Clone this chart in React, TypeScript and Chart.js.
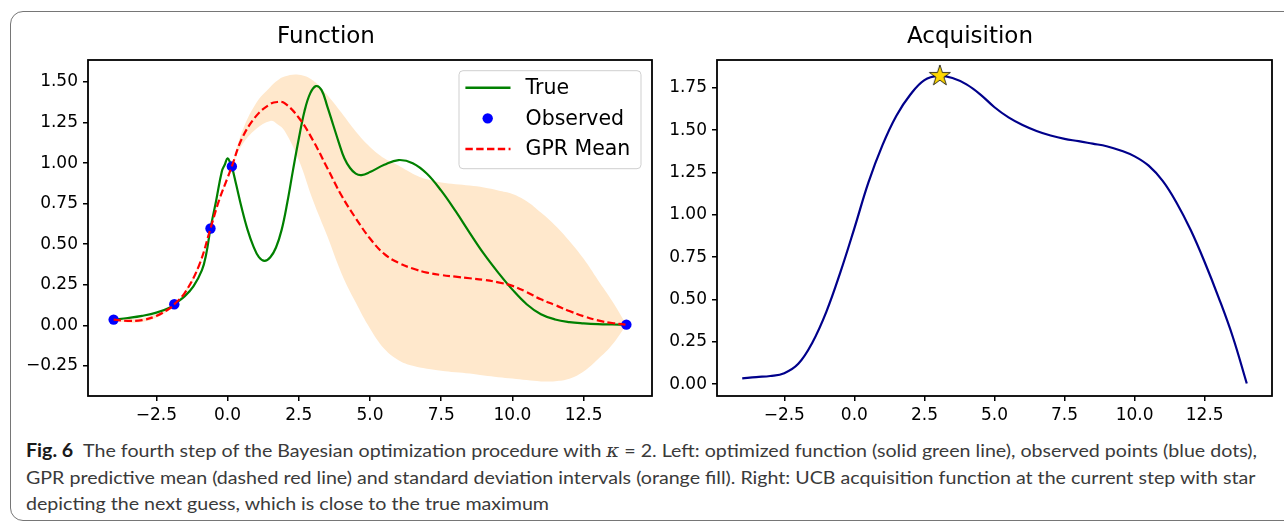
import React, { useEffect, useLayoutEffect, useRef } from "react";
import { Chart, registerables } from "chart.js";

Chart.register(...registerables);

// ---------- data ----------
const X_TICKS = [-2.5, 0, 2.5, 5, 7.5, 10, 12.5];
const LEFT_Y_TICKS = [-0.25, 0, 0.25, 0.5, 0.75, 1, 1.25, 1.5];
const RIGHT_Y_TICKS = [0, 0.25, 0.5, 0.75, 1, 1.25, 1.5, 1.75];

const TRUE_X = [-4, -3.5, -3, -2.5, -2, -1.87, -1.5, -1.2, -0.9, -0.75, -0.6, -0.4, -0.2, -0.1, 0, 0.1, 0.15, 0.3, 0.5, 0.7, 0.9, 1.1, 1.3, 1.5, 1.7, 1.9, 2.1, 2.3, 2.5, 2.7, 2.9, 3.1, 3.3, 3.5, 3.7, 3.9, 4.1, 4.3, 4.5, 4.7, 5, 5.5, 6, 6.5, 7, 7.5, 8, 8.5, 9, 9.5, 10, 10.5, 11, 11.5, 12, 12.5, 13, 13.5, 14];
const TRUE_Y = [0.035, 0.045, 0.058, 0.078, 0.112, 0.13, 0.18, 0.24, 0.34, 0.44, 0.597, 0.77, 0.95, 0.99, 1.03, 1.0, 0.98, 0.87, 0.72, 0.59, 0.49, 0.42, 0.397, 0.42, 0.48, 0.59, 0.76, 0.96, 1.15, 1.32, 1.43, 1.475, 1.45, 1.35, 1.24, 1.13, 1.03, 0.97, 0.935, 0.926, 0.945, 0.99, 1.019, 1.0, 0.935, 0.83, 0.705, 0.57, 0.44, 0.325, 0.22, 0.13, 0.068, 0.036, 0.02, 0.012, 0.007, 0.005, 0.004];

const MEAN_X = [-4, -3.5, -3, -2.5, -2, -1.87, -1.5, -1, -0.6, -0.3, 0, 0.15, 0.5, 1, 1.5, 1.75, 2, 2.5, 3, 3.5, 4, 4.5, 5, 5.5, 6, 6.5, 7, 7.5, 8, 8.5, 9, 9.5, 10, 10.5, 11, 11.5, 12, 12.5, 13, 13.5, 14];
const MEAN_Y = [0.035, 0.027, 0.032, 0.058, 0.108, 0.13, 0.2, 0.37, 0.597, 0.77, 0.91, 0.98, 1.15, 1.29, 1.365, 1.377, 1.37, 1.28, 1.14, 0.97, 0.8, 0.66, 0.535, 0.44, 0.385, 0.35, 0.325, 0.31, 0.3, 0.29, 0.28, 0.265, 0.243, 0.205, 0.16, 0.125, 0.088, 0.056, 0.03, 0.014, 0.004];

const BAND_X = [-4, -3.5, -3, -2.5, -2, -1.87, -1.5, -1, -0.6, -0.3, 0, 0.15, 0.5, 1, 1.5, 1.75, 2, 2.5, 3, 3.5, 4, 4.5, 5, 5.5, 6, 6.5, 7, 7.5, 8, 8.5, 9, 9.5, 10, 10.5, 11, 11.5, 12, 12.5, 13, 13.5, 14];
const BAND_UPPER = [0.04, 0.037, 0.045, 0.07, 0.115, 0.13, 0.21, 0.38, 0.597, 0.78, 0.915, 0.98, 1.19, 1.37, 1.47, 1.51, 1.535, 1.545, 1.51, 1.42, 1.31, 1.195, 1.1, 1.03, 0.985, 0.935, 0.9, 0.88, 0.87, 0.862, 0.85, 0.832, 0.81, 0.765, 0.695, 0.615, 0.52, 0.41, 0.28, 0.15, 0.004];
const BAND_LOWER = [0.03, 0.018, 0.02, 0.046, 0.1, 0.13, 0.19, 0.355, 0.597, 0.76, 0.905, 0.98, 1.11, 1.21, 1.26, 1.24, 1.2, 1.02, 0.77, 0.55, 0.32, 0.14, -0.02, -0.145, -0.215, -0.25, -0.268, -0.28, -0.29, -0.298, -0.31, -0.32, -0.328, -0.338, -0.346, -0.345, -0.33, -0.285, -0.21, -0.12, 0.004];

const OBS_X = [-4, -1.87, -0.6, 0.15, 14];
const OBS_Y = [0.035, 0.13, 0.597, 0.98, 0.004];

const ACQ_X = [-4, -3.5, -3, -2.5, -2, -1.5, -1, -0.5, 0, 0.5, 1, 1.5, 2, 2.5, 3, 3.5, 4, 4.5, 5, 5.5, 6, 6.5, 7, 7.5, 8, 8.5, 9, 9.5, 10, 10.5, 11, 11.5, 12, 12.5, 13, 13.5, 14];
const ACQ_Y = [0.034, 0.042, 0.048, 0.065, 0.12, 0.245, 0.427, 0.66, 0.92, 1.19, 1.41, 1.585, 1.71, 1.795, 1.82, 1.808, 1.77, 1.71, 1.635, 1.575, 1.53, 1.495, 1.468, 1.448, 1.435, 1.42, 1.405, 1.38, 1.345, 1.29, 1.2, 1.07, 0.91, 0.72, 0.51, 0.28, 0.004];

const STAR_X = [3.05];
const STAR_Y = [1.82];

const TITLES = ["Function", "Acquisition"];
const LEGEND_LABELS = ["True", "Observed", "GPR Mean"];

// ---------- style ----------
const FONT = "'DejaVu Sans', sans-serif";
const FILL_COLOR = "rgb(255, 232, 204)";
const CAPTION_LINE1_WIDTH = 1231;

const fmt = (digits: number) => (v: number) =>
  (v < -1e-9 ? "\u2212" : "") + Math.abs(v).toFixed(digits);

const pts = (xs: number[], ys: number[]) => xs.map((x, i) => ({ x, y: ys[i] }));

function axes(opts: {
  yTicks: number[];
  yMin: number;
  yMax: number;
  yWidth: number;
  xHeight: number;
}) {
  const common = {
    grid: {
      display: true,
      drawOnChartArea: false,
      drawTicks: true,
      tickLength: 5,
      color: "#000",
      lineWidth: 1.5,
    },
    border: { display: false },
  };
  return {
    x: {
      type: "linear",
      min: -4.9,
      max: 14.9,
      afterBuildTicks: (s: any) => {
        s.ticks = X_TICKS.map((v) => ({ value: v }));
      },
      afterFit: (s: any) => {
        s.height = opts.xHeight;
      },
      ...common,
      ticks: {
        color: "#000",
        font: { family: FONT, size: 17 },
        padding: 4,
        maxRotation: 0,
        autoSkip: false,
        callback: (v: any) => fmt(1)(Number(v)),
      },
    },
    y: {
      type: "linear",
      min: opts.yMin,
      max: opts.yMax,
      afterBuildTicks: (s: any) => {
        s.ticks = opts.yTicks.map((v) => ({ value: v }));
      },
      afterFit: (s: any) => {
        s.width = opts.yWidth;
      },
      ...common,
      ticks: {
        color: "#000",
        font: { family: FONT, size: 17 },
        padding: 5,
        autoSkip: false,
        callback: (v: any) => fmt(2)(Number(v)),
      },
    },
  };
}

const boxPlugin = {
  id: "axesBox",
  afterDatasetsDraw(chart: any) {
    const { ctx, chartArea: a } = chart;
    ctx.save();
    ctx.strokeStyle = "#000";
    ctx.lineWidth = 1.8;
    ctx.strokeRect(a.left, a.top, a.right - a.left, a.bottom - a.top);
    ctx.restore();
  },
};

const legendPlugin = {
  id: "mplLegend",
  afterDraw(chart: any) {
    const { ctx, chartArea: a } = chart;
    const w = 182;
    const h = 98;
    const right = a.right - 11;
    const left = right - w;
    const top = a.top + 10.7;
    ctx.save();
    ctx.beginPath();
    ctx.roundRect(left, top, w, h, 4);
    ctx.fillStyle = "rgba(255,255,255,0.8)";
    ctx.fill();
    ctx.strokeStyle = "#cfcfcf";
    ctx.lineWidth = 1;
    ctx.stroke();
    const dsets = chart.data.datasets;
    LEGEND_LABELS.forEach((label, i) => {
      const ds = dsets.find((d: any) => d.label === label);
      const y = top + 17 + i * 30.65;
      if (ds.showLine === false) {
        ctx.beginPath();
        ctx.arc(left + 28.7, y, ds.pointRadius, 0, Math.PI * 2);
        ctx.fillStyle = ds.pointBackgroundColor;
        ctx.fill();
      } else {
        ctx.beginPath();
        ctx.setLineDash(ds.borderDash || []);
        ctx.strokeStyle = ds.borderColor;
        ctx.lineWidth = ds.borderWidth + 0.3;
        ctx.moveTo(left + 6.4, y);
        ctx.lineTo(left + 51.5, y);
        ctx.stroke();
        ctx.setLineDash([]);
      }
      ctx.fillStyle = "#000";
      ctx.font = `20.5px ${FONT}`;
      ctx.textBaseline = "middle";
      ctx.textAlign = "left";
      ctx.fillText(label, left + 66.5, y + 1);
    });
    ctx.restore();
  },
};

function makeStar(): HTMLCanvasElement {
  const c = document.createElement("canvas");
  c.width = 26;
  c.height = 26;
  const g = c.getContext("2d")!;
  const R = 11;
  const r = R * 0.382;
  g.beginPath();
  for (let i = 0; i < 10; i++) {
    const ang = -Math.PI / 2 + (i * Math.PI) / 5;
    const rad = i % 2 === 0 ? R : r;
    const px = 13 + rad * Math.cos(ang);
    const py = 13 + rad * Math.sin(ang);
    if (i === 0) g.moveTo(px, py);
    else g.lineTo(px, py);
  }
  g.closePath();
  g.fillStyle = "#FFD700";
  g.fill();
  g.strokeStyle = "#000";
  g.lineWidth = 0.8;
  g.stroke();
  return c;
}

function titleOpts(text: string) {
  return {
    display: true,
    text,
    color: "#000",
    font: { family: FONT, size: 23, weight: "normal", lineHeight: 1.2 },
    padding: { top: 23, bottom: 9.4 },
  };
}

export default function App() {
  const leftRef = useRef<HTMLCanvasElement>(null);
  const rightRef = useRef<HTMLCanvasElement>(null);
  const capRef = useRef<HTMLDivElement>(null);
  const line1Ref = useRef<HTMLSpanElement>(null);

  useLayoutEffect(() => {
    const fit = () => {
      const el = line1Ref.current;
      const cap = capRef.current;
      if (!el || !cap) return;
      cap.style.transform = "none";
      const w = el.getBoundingClientRect().width;
      if (w > 0) cap.style.transform = `scaleX(${CAPTION_LINE1_WIDTH / w})`;
    };
    fit();
    (document as any).fonts?.ready?.then(fit);
  }, []);

  useEffect(() => {
    const left = new Chart(leftRef.current!, {
      type: "line",
      data: {
        datasets: [
          {
            label: "band-lower",
            data: pts(BAND_X, BAND_LOWER),
            borderWidth: 0,
            borderColor: "rgba(0,0,0,0)",
            pointRadius: 0,
            fill: false,
            order: 10,
          },
          {
            label: "band-upper",
            data: pts(BAND_X, BAND_UPPER),
            borderWidth: 0,
            borderColor: "rgba(0,0,0,0)",
            backgroundColor: FILL_COLOR,
            pointRadius: 0,
            fill: 0,
            order: 9,
          },
          {
            label: "True",
            data: pts(TRUE_X, TRUE_Y),
            borderColor: "#008000",
            borderWidth: 2.2,
            pointRadius: 0,
            fill: false,
            order: 3,
          },
          {
            label: "Observed",
            data: pts(OBS_X, OBS_Y),
            showLine: false,
            pointRadius: 5.2,
            pointBackgroundColor: "#0000ff",
            pointBorderWidth: 0,
            pointBorderColor: "#0000ff",
            fill: false,
            order: 2,
          },
          {
            label: "GPR Mean",
            data: pts(MEAN_X, MEAN_Y),
            borderColor: "#ff0000",
            borderWidth: 2.2,
            borderDash: [7.4, 3.4],
            pointRadius: 0,
            fill: false,
            order: 1,
          },
        ],
      },
      options: {
        animation: false,
        responsive: false,
        maintainAspectRatio: false,
        events: [],
        layout: { padding: { left: 0, right: 8, top: 0, bottom: 0 } },
        elements: { line: { tension: 0.4 } },
        plugins: {
          legend: { display: false },
          tooltip: { enabled: false },
          title: titleOpts(TITLES[0]),
        },
        scales: axes({
          yTicks: LEFT_Y_TICKS,
          yMin: -0.436,
          yMax: 1.636,
          yWidth: 88,
          xHeight: 34,
        }),
      } as any,
      plugins: [boxPlugin, legendPlugin],
    });

    const star = makeStar();
    const right = new Chart(rightRef.current!, {
      type: "line",
      data: {
        datasets: [
          {
            label: "Next guess",
            data: pts(STAR_X, STAR_Y),
            showLine: false,
            pointStyle: star,
            pointRadius: 11,
            order: 1,
          },
          {
            label: "Acquisition",
            data: pts(ACQ_X, ACQ_Y),
            borderColor: "#00008b",
            borderWidth: 2.2,
            pointRadius: 0,
            fill: false,
            order: 2,
          },
        ],
      },
      options: {
        animation: false,
        responsive: false,
        maintainAspectRatio: false,
        events: [],
        layout: { padding: { left: 0, right: 4, top: 0, bottom: 0 } },
        elements: { line: { tension: 0.4 } },
        plugins: {
          legend: { display: false },
          tooltip: { enabled: false },
          title: titleOpts(TITLES[1]),
        },
        scales: axes({
          yTicks: RIGHT_Y_TICKS,
          yMin: -0.07,
          yMax: 1.914,
          yWidth: 57,
          xHeight: 34,
        }),
      } as any,
      plugins: [boxPlugin],
    });

    return () => {
      left.destroy();
      right.destroy();
    };
  }, []);

  const capText: React.CSSProperties = {
    whiteSpace: "nowrap",
    height: 26.5,
  };

  return (
    <div
      style={{
        position: "absolute",
        left: 0,
        top: 0,
        width: 1284,
        height: 521,
        overflow: "hidden",
        background: "#fff",
      }}
    >
      <div
        style={{
          position: "absolute",
          left: 10,
          top: 11,
          width: 1300,
          height: 510,
          boxSizing: "border-box",
          border: "1.5px solid #767676",
          borderRadius: 13,
        }}
      />
      <canvas
        ref={leftRef}
        width={660}
        height={430}
        style={{ position: "absolute", left: 0, top: 0, width: 660, height: 430 }}
      />
      <canvas
        ref={rightRef}
        width={624}
        height={430}
        style={{ position: "absolute", left: 660, top: 0, width: 624, height: 430 }}
      />
      <div
        ref={capRef}
        style={{
          position: "absolute",
          left: 26,
          top: 437,
          fontFamily: "Lato, 'Open Sans', sans-serif",
          fontSize: 18,
          lineHeight: "26.5px",
          color: "#3a3a3a",
          transformOrigin: "0 0",
        }}
      >
        <div style={capText}>
          <span ref={line1Ref}>
            <b style={{ color: "#1a1a1a" }}>Fig. 6</b>
            {"\u2002The fourth step of the Bayesian optimization procedure with "}
            <i style={{ fontFamily: "'DejaVu Serif', serif" }}>κ</i>
            {" = 2. Left: optimized function (solid green line), observed points (blue dots),"}
          </span>
        </div>
        <div style={capText}>
          GPR predictive mean (dashed red line) and standard deviation intervals (orange fill). Right: UCB acquisition function at the current step with star
        </div>
        <div style={capText}>depicting the next guess, which is close to the true maximum</div>
      </div>
    </div>
  );
}
